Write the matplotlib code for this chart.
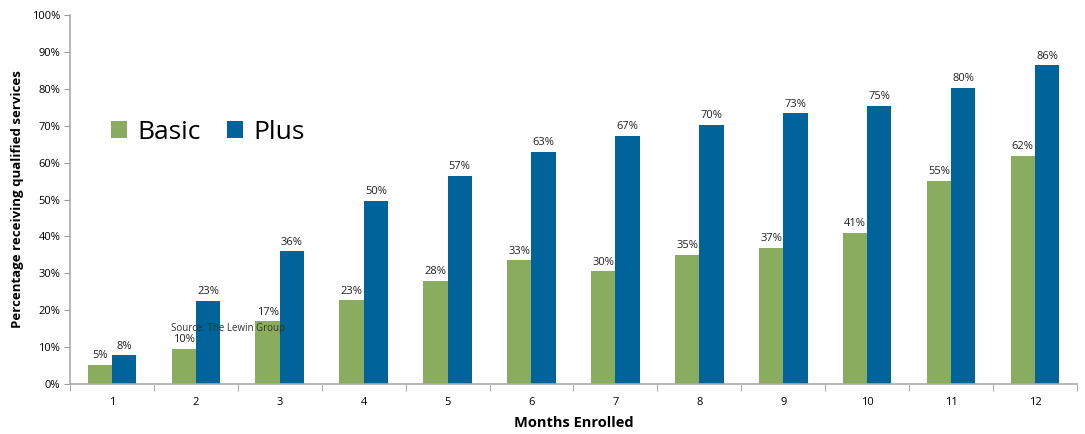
import matplotlib
matplotlib.use("Agg")
import matplotlib.pyplot as plt
import numpy as np

months = ["1", "2", "3", "4", "5", "6", "7", "8", "9", "10", "11", "12"]
basic = [5.2, 9.6, 17.0, 22.7, 28.0, 33.5, 30.5, 35.0, 37.0, 41.0, 55.0, 61.8]
plus = [7.8, 22.6, 36.0, 49.7, 56.5, 63.0, 67.2, 70.2, 73.4, 75.4, 80.3, 86.4]
basic_labels = ["5%", "10%", "17%", "23%", "28%", "33%", "30%", "35%", "37%", "41%", "55%", "62%"]
plus_labels = ["8%", "23%", "36%", "50%", "57%", "63%", "67%", "70%", "73%", "75%", "80%", "86%"]
yticks = [0, 10, 20, 30, 40, 50, 60, 70, 80, 90, 100]

plt.rcParams['font.family'] = ['Open Sans', 'DejaVu Sans']

green = "#8AAC5E"
blue = "#00639A"

fig = plt.figure(figsize=(10.85, 4.34), dpi=100)
ax = fig.add_axes([0.0645, 0.1152, 0.928, 0.850])

x = np.arange(len(months))
w = 0.29
ax.bar(x - w/2, basic, w, color=green, label="Basic")
ax.bar(x + w/2, plus, w, color=blue, label="Plus")

for xi, v, t in zip(x, basic, basic_labels):
    ax.text(xi - w/2, v + 1.0, t, ha="center", va="bottom", fontsize=8, color="#222222")
for xi, v, t in zip(x, plus, plus_labels):
    ax.text(xi + w/2, v + 1.0, t, ha="center", va="bottom", fontsize=8, color="#222222")

ax.set_xlim(-0.5, len(months) - 0.5)
ax.set_ylim(0, 100)
ax.set_yticks(yticks)
ax.set_yticklabels([f"{v}%" for v in yticks], fontsize=8)
ax.set_xticks(x)
ax.set_xticklabels(months, fontsize=8)
ax.set_xticks(np.arange(len(months) + 1) - 0.5, minor=True)
ax.tick_params(axis="x", which="major", length=0, pad=9)
ax.tick_params(axis="x", which="minor", length=5, color="#999999")
ax.tick_params(axis="y", length=4, color="#999999", pad=3)

for s in ["top", "right"]:
    ax.spines[s].set_visible(False)
for s in ["left", "bottom"]:
    ax.spines[s].set_color("#AAAAAA")
    ax.spines[s].set_linewidth(1.2)

ax.set_ylabel("Percentage receiving qualified services", fontsize=9.5, fontweight="bold", labelpad=6)
ax.set_xlabel("Months Enrolled", fontsize=10.5, fontweight="bold", labelpad=6)

ax.legend(loc="upper left", bbox_to_anchor=(0.017, 0.78), ncol=2, frameon=False,
          fontsize=19, handlelength=0.6, handleheight=0.6, handletextpad=0.4,
          columnspacing=1.0)

ax.text(0.10, 0.15, "Source: The Lewin Group", transform=ax.transAxes, fontsize=7,
        color="#333333", ha="left", va="center")

fig.savefig("out.png", dpi=100)
